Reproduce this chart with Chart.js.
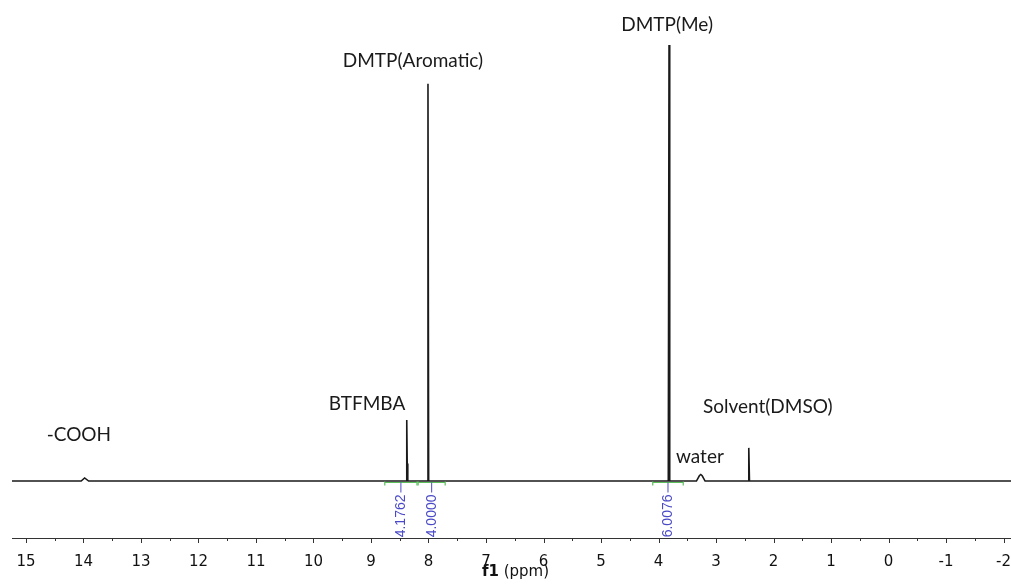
<!DOCTYPE html>
<html>
<head>
<meta charset="utf-8">
<script src="https://cdn.jsdelivr.net/npm/chart.js"></script>
<style>
  html, body { margin: 0; background: #fff; }
  #wrap { width: 1011px; height: 586px; }
</style>
</head>
<body>
<div id="wrap"><canvas id="nmr"></canvas></div>
<script>
// 1H NMR trace: chemical shift (ppm) vs relative intensity (DMTP(Me) = 100)
const shifts    = [15.243, 14.04, 13.98, 13.91, 8.39, 8.378, 8.370, 8.36, 8.022, 8.009, 7.997,
                   3.830, 3.817, 3.805, 3.34, 3.29, 3.265, 3.24, 3.19, 2.442, 2.430, 2.418, -2.13];
const intensity = [0, 0, 0.7, 0, 0, 14.0, 4.0, 0, 0, 91.1, 0,
                   0, 100, 0, 0, 1.2, 1.5, 1.2, 0, 0, 7.6, 0, 0];

// peak annotations (anchor in ppm / intensity units)
const peakLabels = ['-COOH', 'BTFMBA', 'DMTP(Aromatic)', 'DMTP(Me)', 'water', 'Solvent(DMSO)'];
const labelShift = [14.08, 9.07, 8.27, 3.85, 3.28, 2.10];
const labelLevel = [10.6, 17.7, 96.3, 104.6, 5.5, 17.0];

// integration regions
const integFrom  = [8.76, 8.18, 4.10];
const integTo    = [8.20, 7.71, 3.57];
const integValue = ['4.1762', '4.0000', '6.0076'];

const ppmMin = -2.13, ppmMax = 15.243;

const nmrDecor = {
  id: 'nmrDecor',
  afterDraw(chart) {
    const { ctx, scales: { x, y } } = chart;
    ctx.save();

    // tick marks: long on whole ppm, short on halves
    ctx.strokeStyle = '#333';
    ctx.lineWidth = 1;
    x.ticks.forEach(t => {
      const px = Math.round(x.getPixelForValue(t.value)) + 0.5;
      const len = Number.isInteger(t.value) ? 5 : 3;
      ctx.beginPath();
      ctx.moveTo(px, x.top);
      ctx.lineTo(px, x.top + len);
      ctx.stroke();
    });

    // axis title ("f1" bold, unit plain)
    ctx.fillStyle = '#111';
    ctx.textBaseline = 'middle';
    ctx.font = 'bold 15px "DejaVu Sans"';
    const w1 = ctx.measureText('f1').width;
    ctx.font = '15px "DejaVu Sans"';
    const w2 = ctx.measureText(' (ppm)').width;
    const tx = (x.left + x.right) / 2 - (w1 + w2) / 2 + 4;
    ctx.font = 'bold 15px "DejaVu Sans"';
    ctx.textAlign = 'left';
    ctx.fillText('f1', tx, 572);
    ctx.font = '15px "DejaVu Sans"';
    ctx.fillText(' (ppm)', tx + w1, 572);

    // integrals
    const yb = y.getPixelForValue(0) + 1.5;
    integFrom.forEach((from, i) => {
      const x1 = x.getPixelForValue(from), x2 = x.getPixelForValue(integTo[i]);
      ctx.strokeStyle = '#5cbf5c';
      ctx.lineWidth = 1.2;
      ctx.beginPath();
      ctx.moveTo(x1, yb); ctx.lineTo(x2, yb);
      ctx.moveTo(x1, yb - 1); ctx.lineTo(x1, yb + 3);
      ctx.moveTo(x2, yb - 1); ctx.lineTo(x2, yb + 3);
      ctx.stroke();
      const mid = (x1 + x2) / 2;
      ctx.strokeStyle = '#4a4ac8';
      ctx.lineWidth = 1;
      ctx.beginPath();
      ctx.moveTo(mid, yb); ctx.lineTo(mid, yb + 10);
      ctx.stroke();
      ctx.save();
      ctx.translate(mid, yb + 12);
      ctx.rotate(-Math.PI / 2);
      ctx.fillStyle = '#4a4ac8';
      ctx.font = '14px "Liberation Sans"';
      ctx.textAlign = 'right';
      ctx.textBaseline = 'middle';
      ctx.fillText(integValue[i], 0, 0);
      ctx.restore();
    });

    // peak names
    ctx.fillStyle = '#1a1a1a';
    ctx.font = '19px Lato';
    ctx.textAlign = 'center';
    ctx.textBaseline = 'middle';
    peakLabels.forEach((txt, i) => {
      ctx.fillText(txt, x.getPixelForValue(labelShift[i]), y.getPixelForValue(labelLevel[i]));
    });

    ctx.restore();
  }
};

new Chart(document.getElementById('nmr'), {
  type: 'line',
  data: {
    datasets: [{
      data: shifts.map((s, i) => ({ x: s, y: intensity[i] })),
      borderColor: '#1a1a1a',
      borderWidth: 1.6,
      pointRadius: 0,
      tension: 0,
      fill: false
    }]
  },
  options: {
    responsive: true,
    maintainAspectRatio: false,
    animation: false,
    layout: { padding: { top: 10, left: 12, right: 0, bottom: 5 } },
    plugins: { legend: { display: false }, tooltip: { enabled: false } },
    scales: {
      x: {
        type: 'linear',
        reverse: true,
        min: ppmMin,
        max: ppmMax,
        // the "-2" label is allowed to run off the right edge, as in the source
        afterFit: s => { s.paddingLeft = 0; s.paddingRight = 0; },
        grid: { display: true, drawOnChartArea: false, drawTicks: true, tickLength: 5, tickColor: 'rgba(0,0,0,0)' },
        border: { display: true, color: '#333', width: 1 },
        ticks: {
          stepSize: 0.5,
          includeBounds: false,
          autoSkip: false,
          maxRotation: 0,
          padding: 10,
          color: '#111',
          font: { family: '"DejaVu Sans"', size: 15 },
          callback: v => Number.isInteger(v) ? String(v) : ''
        }
      },
      y: { display: false, min: -13.07, max: 108.03 }
    }
  },
  plugins: [nmrDecor]
});
</script>
</body>
</html>
